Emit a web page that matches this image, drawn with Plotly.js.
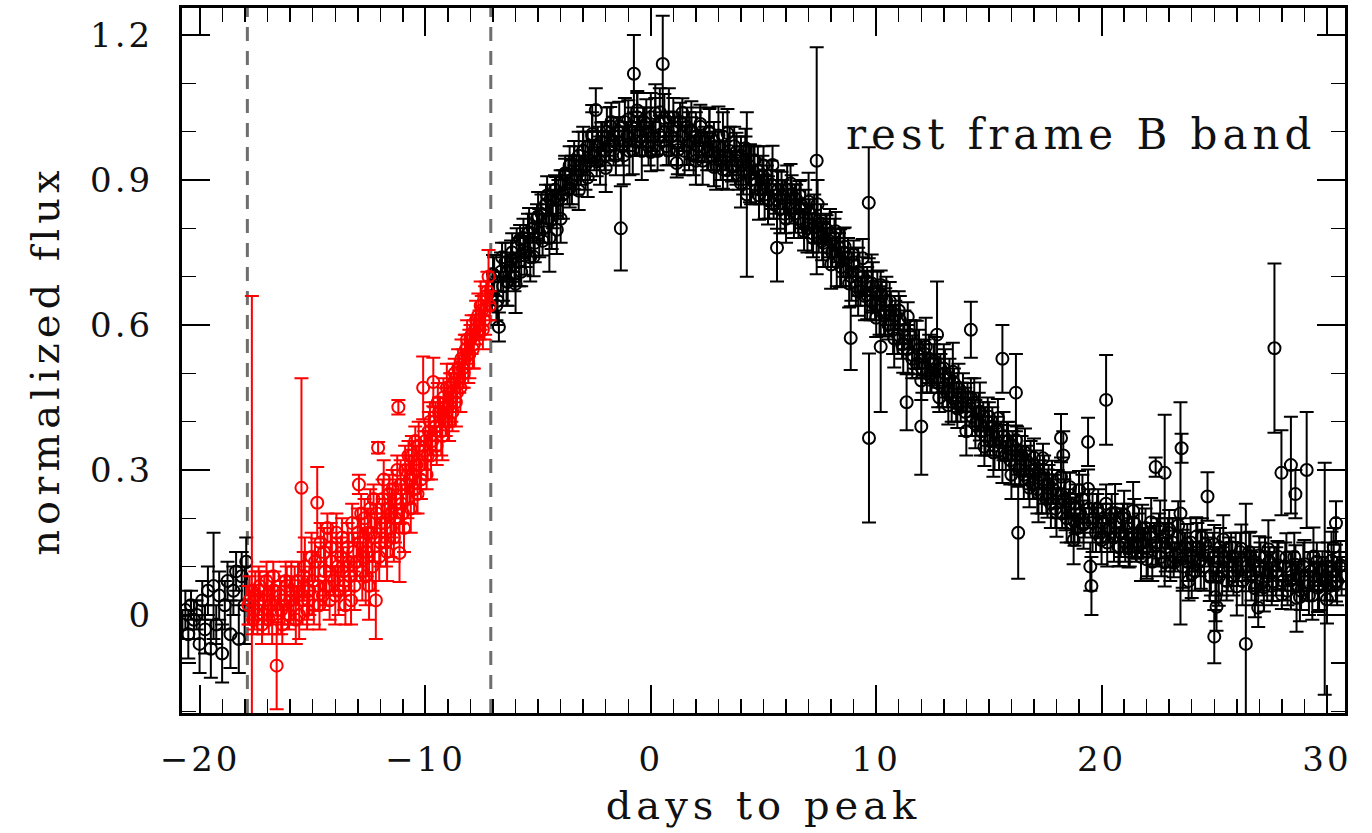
<!DOCTYPE html>
<html>
<head>
<meta charset="utf-8">
<script src="https://cdn.plot.ly/plotly-3.0.1.min.js"></script>
<style>
  html, body { margin: 0; padding: 0; background: #ffffff; }
  #chart { width: 1372px; height: 833px; }
  .xtick text, .ytick text { letter-spacing: 3px; }
  .g-xtitle text, .g-ytitle text { letter-spacing: 5px; }
  .annotation-text { letter-spacing: 5px; }
</style>
</head>
<body>
<div id="chart"></div>
<script>
// ---- pre-explosion baseline (black, left of first cut) ----
const preDay = [-20.78,-20.65,-20.52,-20.4,-20.27,-20.15,-20.02,-19.9,-19.78,-19.65,-19.52,-19.4,-19.28,-19.15,-19.02,-18.9,-18.78,-18.65,-18.52,-18.4,-18.28,-18.15,-18.02,-17.95];
const preFlux = [-0.02,0.01,-0.04,0.02,-0.01,0.0,-0.06,0.03,-0.03,0.05,-0.07,0.06,-0.02,0.04,-0.08,0.02,0.07,-0.04,0.05,0.09,-0.05,0.08,0.02,0.11];
const preErr = [0.03,0.04,0.05,0.03,0.04,0.03,0.06,0.04,0.05,0.05,0.06,0.11,0.04,0.05,0.06,0.05,0.04,0.07,0.05,0.04,0.07,0.05,0.08,0.05];

// ---- early rise (red, between the cuts) ----
const redDay = [
  -17.85,-17.7,-17.65,-17.55,-17.45,-17.35,-17.25,-17.15,-17.05,-16.95,-16.85,-16.75,-16.6,-16.55,-16.45,-16.35,-16.25,-16.15,-16.05,-15.95,
  -15.85,-15.75,-15.65,-15.5,-15.45,-15.35,-15.25,-15.15,-15.05,-14.95,-14.8,-14.75,-14.65,-14.55,-14.45,-14.35,-14.25,-14.15,-14.05,-13.95,
  -13.85,-13.75,-13.65,-13.55,-13.45,-13.35,-13.25,-13.15,-13.05,-12.95,-12.9,-12.8,-12.7,-12.6,-12.5,-12.4,-12.3,-12.2,-12.1,-12.05,
  -11.95,-11.85,-11.75,-11.65,-11.55,-11.45,-11.35,-11.25,-11.2,-11.15,-11.05,-10.95,-10.85,-10.75,-10.65,-10.55,-10.45,-10.35,-10.25,-10.1,
  -10.05,-9.95,-9.85,-9.75,-9.65,-9.6,-9.5,-9.4,-9.3,-9.2,-9.1,-9.0,-8.9,-8.8,-8.7,-8.6,-8.5,-8.4,-8.3,-8.2,
  -8.1,-8.0,-7.9,-7.8,-7.65,-7.6,-7.5,-7.4,-7.3,-7.2,-7.15];
const redFlux = [
  0.02,0.05,-0.01,0.04,0.0,0.06,-0.02,0.03,0.07,-0.01,0.02,0.08,-0.105,0.01,0.04,-0.02,0.03,0.06,0.0,0.05,
  0.02,-0.01,0.07,0.263,0.03,0.10,0.01,0.05,0.12,0.02,0.232,0.06,0.15,0.04,0.09,0.18,0.03,0.11,0.07,0.17,
  0.05,0.12,0.09,0.02,0.14,0.08,0.19,0.06,0.11,0.27,0.15,0.09,0.20,0.13,0.06,0.17,0.24,0.03,0.346,0.12,
  0.19,0.28,0.15,0.22,0.18,0.26,0.20,0.30,0.43,0.128,0.23,0.18,0.27,0.33,0.22,0.29,0.36,0.25,0.31,0.47,
  0.34,0.29,0.38,0.33,0.482,0.40,0.35,0.42,0.38,0.45,0.40,0.43,0.47,0.42,0.50,0.46,0.49,0.53,0.50,0.55,
  0.52,0.57,0.55,0.59,0.62,0.60,0.63,0.61,0.66,0.70,0.64];
const redErr = [
  0.04,0.61,0.03,0.05,0.04,0.03,0.04,0.05,0.04,0.03,0.04,0.03,0.09,0.05,0.03,0.04,0.05,0.04,0.03,0.06,
  0.04,0.05,0.04,0.227,0.05,0.06,0.04,0.05,0.05,0.04,0.074,0.05,0.04,0.03,0.05,0.03,0.04,0.06,0.03,0.04,
  0.05,0.04,0.05,0.04,0.05,0.03,0.04,0.05,0.04,0.02,0.05,0.06,0.04,0.05,0.07,0.04,0.03,0.08,0.012,0.05,
  0.04,0.04,0.05,0.03,0.06,0.04,0.05,0.03,0.015,0.06,0.04,0.05,0.04,0.03,0.05,0.04,0.03,0.04,0.05,0.065,
  0.04,0.03,0.04,0.05,0.05,0.03,0.04,0.03,0.05,0.04,0.03,0.04,0.03,0.04,0.03,0.04,0.03,0.04,0.03,0.03,
  0.04,0.03,0.04,0.03,0.045,0.03,0.03,0.04,0.03,0.055,0.03];

// second red sample read from the densely packed part of the rise
const redDay2 = [
  -17.8,-17.6,-17.4,-17.2,-17.0,-16.8,-16.7,-16.4,-16.2,-16.0,-15.8,-15.6,-15.4,-15.2,-15.0,-14.9,-14.7,-14.5,-14.4,-14.2,
  -14.0,-13.9,-13.7,-13.6,-13.4,-13.3,-13.2,-13.0,-12.85,-12.75,-12.65,-12.55,-12.45,-12.35,-12.25,-12.15,-12.0,-11.9,-11.8,-11.7,
  -11.6,-11.5,-11.4,-11.3,-11.1,-11.0,-10.9,-10.8,-10.7,-10.6,-10.5,-10.4,-10.3,-10.2,-10.0,-9.9,-9.8,-9.7,-9.55,-9.45,
  -9.35,-9.25,-9.15,-9.05,-8.95,-8.85,-8.75,-8.65,-8.55,-8.45,-8.35,-8.25,-8.15,-8.05,-7.95,-7.85,-7.75,-7.55,-7.45,-7.35,-7.25];
const redFlux2 = [
  0.03,0.01,0.05,0.0,0.04,0.0,0.05,0.01,0.07,0.03,0.06,0.0,0.08,0.03,0.07,0.11,0.02,0.13,0.06,0.14,
  0.04,0.10,0.16,0.06,0.11,0.03,0.13,0.17,0.21,0.12,0.08,0.17,0.22,0.10,0.16,0.21,0.15,0.24,0.19,0.13,
  0.25,0.21,0.16,0.24,0.27,0.21,0.30,0.24,0.28,0.33,0.26,0.31,0.35,0.28,0.36,0.33,0.40,0.36,0.39,0.44,
  0.41,0.37,0.43,0.47,0.40,0.45,0.48,0.44,0.51,0.47,0.51,0.53,0.57,0.54,0.58,0.56,0.61,0.64,0.59,0.63,0.67];
const redErr2 = [
  0.05,0.04,0.05,0.04,0.05,0.06,0.04,0.05,0.04,0.05,0.04,0.05,0.05,0.04,0.06,0.04,0.05,0.05,0.04,0.05,
  0.06,0.05,0.04,0.05,0.06,0.05,0.04,0.05,0.04,0.05,0.06,0.05,0.04,0.05,0.05,0.04,0.05,0.04,0.05,0.06,
  0.04,0.05,0.05,0.04,0.05,0.04,0.05,0.04,0.05,0.04,0.05,0.04,0.05,0.04,0.04,0.05,0.04,0.03,0.05,0.04,
  0.04,0.05,0.04,0.05,0.04,0.05,0.04,0.05,0.04,0.05,0.04,0.05,0.04,0.05,0.04,0.05,0.04,0.05,0.04,0.05,0.04];

// ---- main light curve (black, after second cut) ----
const blackDay = [
  -7.05,-6.95,-6.85,-6.74,-6.65,-6.55,-6.45,-6.35,-6.25,-6.15,-6.05,-5.95,-5.85,-5.75,-5.65,-5.55,-5.45,-5.35,-5.25,-5.15,
  -5.05,-4.95,-4.85,-4.75,-4.65,-4.55,-4.5,-4.45,-4.35,-4.25,-4.17,-4.1,-4.0,-3.9,-3.8,-3.7,-3.6,-3.5,-3.4,-3.3,
  -3.2,-3.1,-3.0,-2.9,-2.8,-2.7,-2.6,-2.5,-2.44,-2.35,-2.25,-2.15,-2.05,-1.95,-1.85,-1.75,-1.65,-1.55,-1.45,-1.33,
  -1.25,-1.15,-1.05,-0.95,-0.85,-0.75,-0.7,-0.6,-0.5,-0.4,-0.3,-0.2,-0.1,0.0,0.1,0.2,0.3,0.4,0.53,0.6,
  0.7,0.8,0.9,1.0,1.15,1.2,1.3,1.4,1.5,1.6,1.7,1.8,1.9,2.0,2.1,2.2,2.3,2.4,2.5,2.6,
  2.7,2.8,2.9,3.0,3.1,3.2,3.3,3.4,3.5,3.6,3.7,3.8,3.9,4.0,4.1,4.2,4.26,4.35,4.45,4.55,
  4.65,4.75,4.85,4.95,5.05,5.15,5.25,5.35,5.45,5.6,5.65,5.75,5.85,5.95,6.05,6.15,6.25,6.35,6.45,6.55,
  6.65,6.75,6.85,6.95,7.05,7.15,7.25,7.36,7.45,7.55,7.65,7.75,7.85,7.95,8.05,8.15,8.25,8.35,8.45,8.55,
  8.65,8.75,8.87,8.9,9.0,9.1,9.2,9.3,9.4,9.5,9.6,9.67,9.68,9.75,9.85,9.95,10.05,10.15,10.2,10.25,
  10.35,10.45,10.55,10.65,10.75,10.85,10.95,11.05,11.15,11.25,11.35,11.4,11.5,11.6,11.7,11.8,11.9,12.0,12.05,12.15,
  12.25,12.35,12.45,12.55,12.7,12.75,12.85,12.95,13.05,13.15,13.25,13.35,13.45,13.55,13.65,13.75,13.85,13.95,14.05,14.2,
  14.25,14.35,14.45,14.55,14.65,14.75,14.85,14.95,15.05,15.15,15.25,15.35,15.45,15.6,15.65,15.75,15.85,15.95,16.05,16.15,
  16.2,16.25,16.3,16.35,16.45,16.55,16.65,16.75,16.85,16.95,17.05,17.15,17.25,17.35,17.45,17.55,17.65,17.75,17.85,17.95,
  18.05,18.2,18.25,18.3,18.35,18.45,18.55,18.65,18.76,18.85,18.95,19.05,19.15,19.25,19.4,19.45,19.5,19.55,19.65,19.75,
  19.85,19.95,20.05,20.2,20.25,20.35,20.45,20.55,20.65,20.75,20.85,20.95,21.05,21.15,21.25,21.35,21.45,21.55,21.65,21.75,
  21.85,21.95,22.05,22.15,22.25,22.4,22.45,22.55,22.65,22.8,22.85,22.95,23.05,23.15,23.25,23.35,23.5,23.55,23.6,23.7,
  23.8,23.86,23.95,24.05,24.15,24.25,24.35,24.45,24.55,24.7,24.75,24.85,24.95,25.0,25.05,25.1,25.15,25.25,25.35,25.45,
  25.55,25.65,25.75,25.85,25.95,26.05,26.15,26.25,26.4,26.45,26.55,26.65,26.75,26.85,26.95,27.05,27.15,27.25,27.35,27.45,
  27.55,27.67,27.75,27.85,27.98,28.05,28.15,28.25,28.4,28.45,28.55,28.6,28.65,28.75,28.85,28.95,29.1,29.15,29.25,29.35,
  29.45,29.55,29.65,29.75,29.9,29.95,30.05,30.15,30.25,30.3,30.4,30.45,30.55,30.65];
const blackFlux = [
  0.66,0.70,0.64,0.596,0.71,0.68,0.73,0.69,0.72,0.75,0.70,0.76,0.73,0.71,0.78,0.75,0.79,0.74,0.80,0.77,
  0.82,0.79,0.83,0.80,0.85,0.82,0.78,0.86,0.84,0.88,0.797,0.86,0.89,0.87,0.91,0.88,0.93,0.90,0.94,0.91,
  0.95,0.92,0.96,0.93,0.97,0.94,0.99,0.95,1.045,0.97,0.94,0.99,0.96,1.0,0.97,1.02,0.98,0.95,1.0,0.80,
  0.97,1.02,0.99,0.96,1.01,1.12,0.98,1.03,0.99,0.96,1.02,1.0,0.97,1.03,0.99,1.01,0.96,1.04,1.14,1.0,
  0.97,1.03,0.99,1.01,0.935,0.98,1.02,0.99,0.96,1.01,0.98,1.0,0.95,0.99,0.97,1.01,0.94,0.98,0.96,1.0,
  0.95,0.98,0.93,0.97,0.94,0.99,0.95,0.92,0.96,0.93,0.97,0.94,0.91,0.95,0.92,0.96,0.87,0.93,0.90,0.94,
  0.89,0.92,0.88,0.91,0.87,0.90,0.86,0.89,0.85,0.76,0.88,0.84,0.87,0.83,0.88,0.84,0.87,0.83,0.86,0.82,
  0.85,0.81,0.84,0.80,0.83,0.79,0.82,0.94,0.78,0.81,0.77,0.80,0.76,0.79,0.75,0.78,0.73,0.76,0.72,0.75,
  0.71,0.74,0.573,0.70,0.73,0.68,0.71,0.67,0.70,0.66,0.69,0.853,0.366,0.65,0.68,0.64,0.67,0.63,0.555,0.66,
  0.62,0.65,0.60,0.63,0.59,0.62,0.58,0.61,0.56,0.59,0.44,0.55,0.58,0.53,0.56,0.52,0.55,0.39,0.51,0.54,
  0.50,0.53,0.49,0.52,0.58,0.48,0.51,0.47,0.50,0.46,0.49,0.45,0.48,0.44,0.47,0.43,0.46,0.42,0.45,0.59,
  0.41,0.44,0.40,0.42,0.38,0.41,0.37,0.40,0.36,0.39,0.35,0.38,0.34,0.53,0.37,0.33,0.36,0.32,0.35,0.31,
  0.46,0.34,0.17,0.30,0.33,0.29,0.32,0.28,0.31,0.27,0.30,0.26,0.29,0.25,0.28,0.24,0.27,0.23,0.26,0.22,
  0.25,0.366,0.21,0.33,0.24,0.20,0.23,0.19,0.155,0.22,0.18,0.21,0.24,0.19,0.358,0.22,0.10,0.06,0.20,0.17,
  0.21,0.16,0.19,0.445,0.15,0.18,0.21,0.16,0.19,0.14,0.17,0.20,0.15,0.18,0.13,0.16,0.19,0.14,0.17,0.12,
  0.15,0.18,0.13,0.16,0.11,0.306,0.15,0.18,0.12,0.294,0.14,0.17,0.11,0.15,0.12,0.16,0.21,0.345,0.10,0.14,
  0.11,0.07,0.15,0.12,0.09,0.14,0.11,0.16,0.10,0.245,0.13,0.08,0.12,-0.045,0.037,0.017,0.11,0.14,0.09,0.12,
  0.07,0.11,0.14,0.08,0.12,0.09,0.13,0.07,-0.06,0.10,0.13,0.08,0.11,0.06,0.015,0.10,0.07,0.12,0.08,0.11,
  0.06,0.552,0.09,0.12,0.294,0.07,0.10,0.05,0.31,0.09,0.12,0.25,0.035,0.08,0.05,0.10,0.30,0.06,0.09,0.04,
  0.08,0.11,0.06,0.09,0.075,0.07,0.10,0.06,0.09,0.14,0.19,0.07,0.10,0.08];
const blackErr = [
  0.03,0.04,0.03,0.03,0.04,0.03,0.04,0.05,0.03,0.04,0.03,0.04,0.05,0.03,0.04,0.03,0.04,0.05,0.03,0.04,
  0.03,0.05,0.04,0.03,0.04,0.05,0.07,0.03,0.04,0.03,0.05,0.04,0.03,0.05,0.04,0.03,0.04,0.05,0.03,0.04,
  0.05,0.03,0.04,0.05,0.03,0.04,0.05,0.03,0.045,0.04,0.05,0.03,0.04,0.05,0.03,0.04,0.05,0.04,0.03,0.087,
  0.04,0.05,0.03,0.05,0.04,0.08,0.03,0.05,0.04,0.06,0.03,0.05,0.04,0.05,0.03,0.06,0.04,0.05,0.1,0.03,
  0.04,0.06,0.04,0.03,0.03,0.05,0.04,0.03,0.05,0.04,0.06,0.03,0.04,0.05,0.03,0.04,0.05,0.03,0.04,0.05,
  0.03,0.04,0.05,0.03,0.04,0.05,0.03,0.04,0.05,0.03,0.04,0.05,0.03,0.04,0.05,0.03,0.17,0.04,0.05,0.03,
  0.04,0.05,0.03,0.04,0.05,0.03,0.04,0.05,0.03,0.07,0.04,0.05,0.03,0.04,0.05,0.03,0.04,0.05,0.03,0.04,
  0.05,0.03,0.04,0.05,0.03,0.04,0.05,0.235,0.03,0.04,0.05,0.03,0.04,0.05,0.03,0.04,0.05,0.03,0.04,0.05,
  0.03,0.04,0.066,0.05,0.03,0.04,0.05,0.03,0.04,0.05,0.03,0.115,0.175,0.04,0.05,0.03,0.04,0.05,0.135,0.03,
  0.04,0.05,0.03,0.04,0.05,0.03,0.04,0.05,0.03,0.04,0.058,0.05,0.03,0.04,0.05,0.03,0.04,0.10,0.05,0.03,
  0.04,0.05,0.03,0.04,0.11,0.05,0.03,0.04,0.05,0.03,0.04,0.05,0.03,0.04,0.05,0.03,0.04,0.05,0.03,0.058,
  0.04,0.05,0.03,0.04,0.05,0.03,0.04,0.05,0.03,0.04,0.05,0.03,0.04,0.07,0.05,0.03,0.04,0.05,0.03,0.04,
  0.08,0.05,0.095,0.03,0.04,0.05,0.03,0.04,0.05,0.03,0.04,0.05,0.03,0.04,0.05,0.03,0.04,0.05,0.03,0.04,
  0.05,0.05,0.03,0.05,0.04,0.05,0.03,0.04,0.05,0.05,0.03,0.04,0.05,0.03,0.05,0.04,0.05,0.06,0.03,0.04,
  0.05,0.03,0.04,0.093,0.05,0.03,0.04,0.05,0.03,0.04,0.05,0.03,0.04,0.05,0.03,0.04,0.05,0.03,0.04,0.05,
  0.03,0.04,0.05,0.03,0.04,0.02,0.05,0.03,0.04,0.12,0.05,0.03,0.04,0.05,0.03,0.04,0.23,0.03,0.05,0.03,
  0.04,0.04,0.05,0.03,0.04,0.05,0.03,0.04,0.05,0.05,0.03,0.04,0.05,0.055,0.05,0.05,0.03,0.04,0.05,0.03,
  0.04,0.05,0.03,0.04,0.05,0.03,0.04,0.05,0.29,0.03,0.04,0.05,0.03,0.04,0.04,0.05,0.03,0.04,0.05,0.03,
  0.04,0.175,0.05,0.03,0.088,0.04,0.05,0.03,0.10,0.04,0.05,0.05,0.07,0.03,0.04,0.05,0.12,0.03,0.04,0.05,
  0.03,0.04,0.05,0.03,0.24,0.04,0.05,0.03,0.04,0.04,0.045,0.05,0.03,0.04];

// second black sample read across the width of the dense band
const blackDay2 = [
  -7.0,-6.8,-6.6,-6.4,-6.2,-6.0,-5.8,-5.6,-5.4,-5.2,-5.0,-4.8,-4.6,-4.4,-4.2,-4.0,-3.8,-3.6,-3.4,-3.2,
  -3.0,-2.8,-2.6,-2.4,-2.2,-2.0,-1.8,-1.6,-1.4,-1.2,-1.0,-0.8,-0.6,-0.4,-0.2,0.0,0.2,0.4,0.6,0.8,
  1.0,1.2,1.4,1.6,1.8,2.0,2.2,2.4,2.6,2.8,3.0,3.2,3.4,3.6,3.8,4.0,4.2,4.4,4.6,4.8,
  5.0,5.2,5.4,5.6,5.8,6.0,6.2,6.4,6.6,6.8,7.0,7.2,7.4,7.6,7.8,8.0,8.2,8.4,8.6,8.8,
  9.0,9.2,9.4,9.6,9.8,10.0,10.2,10.4,10.6,10.8,11.0,11.2,11.4,11.6,11.8,12.0,12.2,12.4,12.6,12.8,
  13.0,13.2,13.4,13.6,13.8,14.0,14.2,14.4,14.6,14.8,15.0,15.2,15.4,15.6,15.8,16.0,16.2,16.4,16.6,16.8,
  17.0,17.2,17.4,17.6,17.8,18.0,18.2,18.4,18.6,18.8,19.0,19.2,19.4,19.6,19.8,20.0,20.2,20.4,20.6,20.8,
  21.0,21.2,21.4,21.6,21.8,22.0,22.2,22.4,22.6,22.8,23.0,23.2,23.4,23.6,23.8,24.0,24.2,24.4,24.6,24.8,
  25.0,25.2,25.4,25.6,25.8,26.0,26.2,26.4,26.6,26.8,27.0,27.2,27.4,27.6,27.8,28.0,28.2,28.4,28.6,28.8,
  29.0,29.2,29.4,29.6,29.8,30.0,30.2,30.4,30.6];
const blackFlux2 = [
  0.705,0.65,0.74,0.69,0.735,0.685,0.777,0.744,0.792,0.741,0.825,0.774,0.868,0.817,0.866,0.82,0.914,0.883,0.931,0.878,
  0.96,0.905,0.995,0.938,0.979,0.925,1.011,0.972,1.012,0.951,1.025,0.962,1.044,0.98,1.017,0.958,1.038,0.993,1.028,0.961,
  1.03,0.962,1.039,0.971,1.003,0.94,1.016,0.967,0.997,0.927,0.992,0.922,0.997,0.927,0.958,0.893,0.966,0.914,0.941,0.868,
  0.93,0.858,0.931,0.859,0.887,0.82,0.893,0.841,0.868,0.794,0.855,0.78,0.85,0.774,0.797,0.725,0.794,0.738,0.762,0.686,
  0.745,0.669,0.738,0.662,0.686,0.615,0.683,0.626,0.649,0.572,0.63,0.551,0.617,0.538,0.559,0.485,0.555,0.50,0.525,0.45,
  0.51,0.434,0.503,0.427,0.451,0.38,0.45,0.395,0.421,0.348,0.41,0.336,0.407,0.333,0.359,0.29,0.362,0.309,0.336,0.263,
  0.325,0.252,0.324,0.251,0.279,0.212,0.286,0.235,0.264,0.193,0.258,0.187,0.261,0.19,0.22,0.155,0.23,0.18,0.211,0.141,
  0.207,0.138,0.215,0.146,0.178,0.115,0.192,0.144,0.177,0.109,0.177,0.108,0.185,0.116,0.148,0.085,0.162,0.114,0.146,0.079,
  0.146,0.079,0.156,0.089,0.121,0.059,0.137,0.089,0.122,0.055,0.123,0.057,0.136,0.069,0.103,0.042,0.119,0.071,0.104,0.037,
  0.105,0.04,0.121,0.056,0.092,0.032,0.112,0.068,0.103];
const blackErr2 = [
  0.04,0.05,0.03,0.05,0.04,0.06,0.03,0.04,0.05,0.04,0.05,0.03,0.04,0.06,0.04,0.05,0.03,0.04,0.05,0.04,
  0.05,0.04,0.06,0.03,0.04,0.05,0.04,0.03,0.05,0.06,0.04,0.05,0.04,0.03,0.05,0.04,0.06,0.04,0.05,0.03,
  0.04,0.05,0.03,0.04,0.06,0.05,0.04,0.03,0.05,0.04,0.06,0.04,0.05,0.03,0.04,0.05,0.04,0.06,0.03,0.05,
  0.04,0.05,0.04,0.06,0.03,0.05,0.04,0.05,0.03,0.04,0.06,0.04,0.05,0.04,0.03,0.05,0.04,0.06,0.04,0.05,
  0.03,0.05,0.04,0.05,0.06,0.04,0.03,0.05,0.04,0.06,0.04,0.05,0.03,0.04,0.05,0.04,0.06,0.04,0.05,0.03,
  0.05,0.04,0.06,0.04,0.03,0.05,0.04,0.05,0.06,0.04,0.03,0.05,0.04,0.06,0.04,0.05,0.03,0.04,0.05,0.04,
  0.04,0.06,0.03,0.05,0.04,0.05,0.04,0.06,0.03,0.05,0.04,0.05,0.04,0.06,0.03,0.05,0.04,0.05,0.06,0.04,
  0.05,0.04,0.06,0.03,0.05,0.04,0.05,0.04,0.06,0.05,0.04,0.03,0.05,0.06,0.04,0.05,0.04,0.06,0.03,0.05,
  0.04,0.06,0.05,0.04,0.03,0.06,0.05,0.04,0.05,0.06,0.04,0.05,0.06,0.04,0.05,0.03,0.05,0.06,0.04,0.05,
  0.05,0.04,0.06,0.05,0.04,0.05,0.06,0.04,0.05];

// ---- cuts (dashed verticals), axis ranges, labels ----
const cutDays = [-17.9, -7.1];
const xRange = [-20.8, 30.8];
const yRange = [-0.203, 1.256];
const xTitle = 'days to peak';
const yTitle = 'normalized flux';
const bandLabel = 'rest frame B band';
const bandLabelPos = [8.56, 0.995];

const FONT = 'DejaVu Serif, Liberation Serif, serif';

function pointTrace(x, y, e, color) {
  return {
    type: 'scatter', mode: 'markers', x: x, y: y,
    marker: { symbol: 'circle-open', size: 12, color: color, line: { color: color, width: 2 } },
    error_y: { type: 'data', array: e, visible: true, color: color, thickness: 2, width: 7 },
    showlegend: false, hoverinfo: 'skip'
  };
}

const traces = [
  pointTrace(preDay, preFlux, preErr, '#000000'),
  pointTrace(blackDay2, blackFlux2, blackErr2, '#000000'),
  pointTrace(blackDay, blackFlux, blackErr, '#000000'),
  pointTrace(redDay2, redFlux2, redErr2, '#ff0000'),
  pointTrace(redDay, redFlux, redErr, '#ff0000')
];

const axisCommon = {
  showline: true, linecolor: '#000000', linewidth: 3, mirror: 'allticks',
  ticks: 'inside', ticklen: 28, tickwidth: 2, tickcolor: '#000000',
  showgrid: false, zeroline: false,
  tickfont: { family: FONT, size: 34, color: '#111111' },
  minor: { ticks: 'inside', ticklen: 14, tickwidth: 1.5, tickcolor: '#000000', showgrid: false }
};

const layout = {
  width: 1372, height: 833,
  margin: { l: 182, r: 27, t: 8, b: 120 },
  paper_bgcolor: '#ffffff', plot_bgcolor: '#ffffff',
  showlegend: false,
  xaxis: Object.assign({}, axisCommon, {
    range: xRange, tick0: 0, dtick: 10,
    minor: Object.assign({}, axisCommon.minor, { dtick: 1 }),
    ticklabelstandoff: 14,
    title: { text: xTitle, font: { family: FONT, size: 40, color: '#111111' }, standoff: 14 }
  }),
  yaxis: Object.assign({}, axisCommon, {
    range: yRange, tick0: 0, dtick: 0.3,
    minor: Object.assign({}, axisCommon.minor, { dtick: 0.1 }),
    ticklabelstandoff: 19,
    title: { text: yTitle, font: { family: FONT, size: 40, color: '#111111' }, standoff: 19 }
  }),
  shapes: cutDays.map(function (d) {
    return { type: 'line', xref: 'x', yref: 'paper', x0: d, x1: d, y0: 0, y1: 1,
             layer: 'below', line: { color: '#6e6e6e', width: 3, dash: '14px,10px' } };
  }),
  annotations: [{
    text: bandLabel, x: bandLabelPos[0], y: bandLabelPos[1], xref: 'x', yref: 'y',
    xanchor: 'left', yanchor: 'middle', showarrow: false,
    font: { family: FONT, size: 42, color: '#111111' }
  }]
};

Plotly.newPlot('chart', traces, layout, { staticPlot: true, displayModeBar: false });
</script>
</body>
</html>
